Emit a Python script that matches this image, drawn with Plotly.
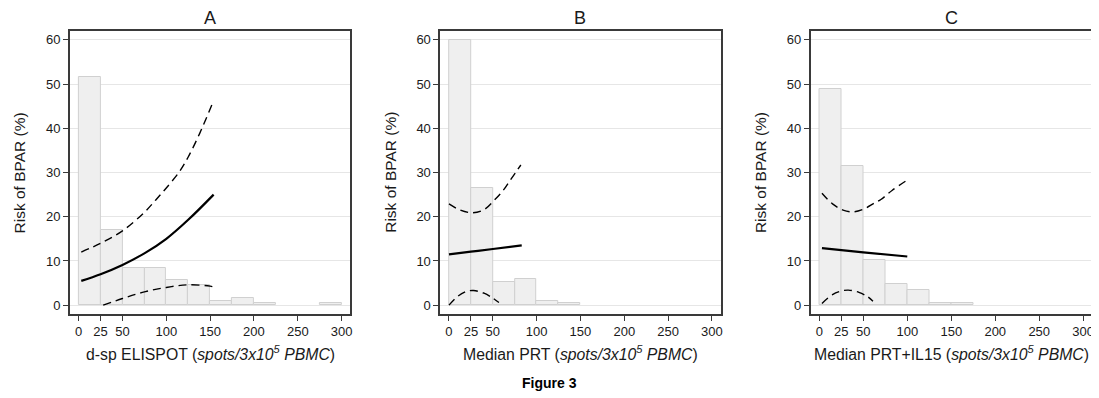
import plotly.graph_objects as go

# ---------------- data ----------------
bin_starts = [0, 25, 50, 75, 100, 125, 150, 175, 200, 225, 250, 275]
bin_width = 25

hist_A = [51.7, 17.1, 8.3, 8.3, 5.8, 4.6, 1.05, 1.7, 0.5, 0, 0, 0.5]
hist_B = [60.0, 26.6, 5.3, 5.9, 1.05, 0.5, 0, 0, 0, 0, 0, 0]
hist_C = [48.8, 31.5, 10.2, 4.7, 3.5, 0.5, 0.5, 0, 0, 0, 0, 0]

# fitted risk curves
A_fit_x = [3, 25, 50, 75, 100, 125, 154]
A_fit_y = [5.5, 7.0, 9.1, 11.7, 15.0, 19.3, 25.0]
A_up_x = [3, 25, 50, 75, 88, 100, 115, 125, 138, 152]
A_up_y = [12.0, 14.0, 16.8, 21.0, 23.8, 26.5, 30.2, 33.5, 38.8, 45.3]
A_lo_x = [28, 50, 75, 100, 125, 150, 154]
A_lo_y = [0.0, 1.5, 3.0, 4.0, 4.6, 4.3, 4.1]

B_fit_x = [0, 25, 50, 83]
B_fit_y = [11.5, 12.1, 12.7, 13.5]
B_up_x = [0, 13, 27, 40, 51, 62, 70, 82]
B_up_y = [22.9, 21.5, 20.9, 21.6, 23.6, 26.0, 28.3, 31.7]
B_lo_x = [0, 10, 20, 28, 40, 50, 57]
B_lo_y = [0.0, 2.0, 3.1, 3.3, 2.7, 1.6, 0.6]

C_fit_x = [3, 50, 100]
C_fit_y = [12.9, 11.95, 11.0]
C_up_x = [3, 15, 27, 38, 50, 62, 70, 83, 100]
C_up_y = [25.3, 22.9, 21.5, 21.1, 21.7, 23.0, 23.9, 26.0, 28.3]
C_lo_x = [3, 15, 25, 33, 45, 55, 61]
C_lo_y = [0.4, 2.4, 3.2, 3.4, 2.9, 1.9, 0.9]

panel_titles = ["A", "B", "C"]
x_titles = [
    "d-sp ELISPOT (<i>spots/3x10<sup>5</sup> PBMC</i>)",
    "Median PRT (<i>spots/3x10<sup>5</sup> PBMC</i>)",
    "Median PRT+IL15 (<i>spots/3x10<sup>5</sup> PBMC</i>)",
]
y_title = "Risk of BPAR (%)"
x_tickvals = [0, 25, 50, 100, 150, 200, 250, 300]
y_tickvals = [0, 10, 20, 30, 40, 50, 60]
fig_caption = "Figure 3"

# ---------------- figure ----------------
OFF = 8  # default page body margin
W, H = 1099 - OFF, 398 - OFF
FONT = "Liberation Sans, Arial, sans-serif"
TXT = "#1a1a1a"


def px(x):
    return (x - OFF) / W


def py(y):
    return 1 - (y - OFF) / H


x_domains = [[px(70), px(351)], [px(441), px(722)], [px(812), px(1094)]]
y_domain = [py(314), py(31)]

panels = [
    (hist_A, (A_fit_x, A_fit_y), (A_up_x, A_up_y), (A_lo_x, A_lo_y)),
    (hist_B, (B_fit_x, B_fit_y), (B_up_x, B_up_y), (B_lo_x, B_lo_y)),
    (hist_C, (C_fit_x, C_fit_y), (C_up_x, C_up_y), (C_lo_x, C_lo_y)),
]

fig = go.Figure()
annotations = []
for i, (hist, fit, up, lo) in enumerate(panels):
    n = "" if i == 0 else str(i + 1)
    xa, ya = "x" + n, "y" + n
    bx = [b for b, v in zip(bin_starts, hist) if v > 0]
    bv = [v for v in hist if v > 0]
    fig.add_trace(go.Bar(
        x=bx, y=bv, width=bin_width, offset=0,
        marker=dict(color="#efefef", line=dict(color="#d0d0d0", width=1)),
        xaxis=xa, yaxis=ya, showlegend=False, hoverinfo="skip"))
    for (cx, cy), dash, w in [(up, "8px,5px", 1.4), (lo, "8px,5px", 1.4), (fit, "solid", 2.2)]:
        fig.add_trace(go.Scatter(
            x=cx, y=cy, mode="lines",
            line=dict(color="black", width=w, dash=dash, shape="spline"),
            xaxis=xa, yaxis=ya, showlegend=False, hoverinfo="skip"))

    axis_common = dict(
        showline=True, linecolor="#3a3a3a", linewidth=1.5, mirror=True,
        ticks="outside", ticklen=5, tickwidth=1, tickcolor="#3a3a3a",
        tickfont=dict(family=FONT, size=13, color=TXT),
        zeroline=False,
    )
    fig.update_layout(**{
        ("xaxis" + n): dict(
            domain=x_domains[i], range=[-10, 310], anchor=ya,
            tickvals=x_tickvals, showgrid=False, **axis_common),
        ("yaxis" + n): dict(
            domain=y_domain, range=[-2, 62], anchor=xa,
            tickvals=y_tickvals, showgrid=True, gridcolor="#e6e6e6", gridwidth=1,
            **axis_common),
    })
    cx_mid = (x_domains[i][0] + x_domains[i][1]) / 2
    annotations.append(dict(text=panel_titles[i], x=cx_mid, y=py(18),
                            xref="paper", yref="paper", showarrow=False,
                            font=dict(family=FONT, size=18, color=TXT),
                            xanchor="center", yanchor="middle"))
    annotations.append(dict(text=x_titles[i], x=cx_mid, y=py(353),
                            xref="paper", yref="paper", showarrow=False,
                            font=dict(family=FONT, size=15.8, color=TXT),
                            xanchor="center", yanchor="middle"))
    annotations.append(dict(text=y_title, x=x_domains[i][0] - 50 / W,
                            y=(y_domain[0] + y_domain[1]) / 2,
                            xref="paper", yref="paper", showarrow=False, textangle=-90,
                            font=dict(family=FONT, size=15.5, color=TXT),
                            xanchor="center", yanchor="middle"))

annotations.append(dict(text="<b>" + fig_caption + "</b>", x=px(550), y=py(383),
                        xref="paper", yref="paper", showarrow=False,
                        font=dict(family=FONT, size=14, color="black"),
                        xanchor="center", yanchor="middle"))

fig.update_layout(
    width=W, height=H,
    margin=dict(l=0, r=0, t=0, b=0),
    paper_bgcolor="white", plot_bgcolor="white",
    barmode="overlay", bargap=0,
    annotations=annotations,
    font=dict(family=FONT, color=TXT),
)

fig.write_html("out.html")
